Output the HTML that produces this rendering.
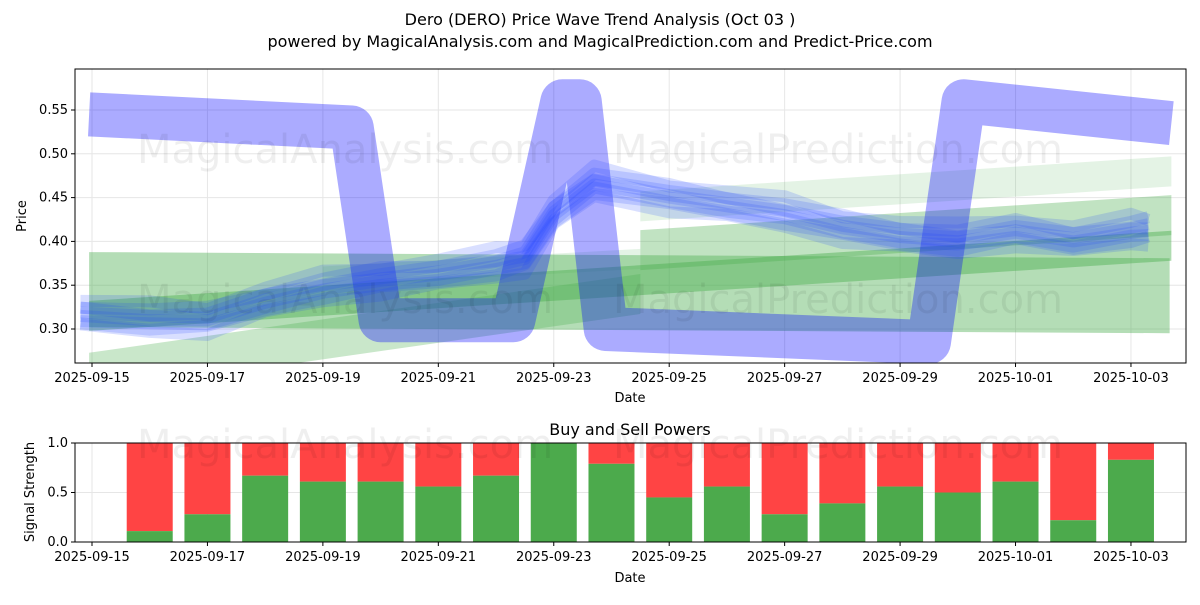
<!DOCTYPE html>
<html><head><meta charset="utf-8"><style>
body{margin:0;background:#fff;font-family:"Liberation Sans","DejaVu Sans",sans-serif}
svg text{font-family:"DejaVu Sans","Liberation Sans",sans-serif;fill:#000}
</style></head><body>
<svg id="c" width="1200" height="600" xmlns="http://www.w3.org/2000/svg">
<rect width="1200" height="600" fill="#fff"/>
<text x="600" y="25" font-size="16" text-anchor="middle">Dero (DERO) Price Wave Trend Analysis (Oct 03 )</text>
<text x="600" y="47" font-size="16" text-anchor="middle">powered by MagicalAnalysis.com and MagicalPrediction.com and Predict-Price.com</text>
<text x="630" y="435" font-size="16" text-anchor="middle">Buy and Sell Powers</text>
<defs><clipPath id="ct"><rect x="75" y="69" width="1111" height="294"/></clipPath></defs>
<g id="topg" clip-path="url(#ct)"></g>
<g id="bot"></g>
<g id="axes"></g>
</svg>
<script>
const dayLabels=["2025-09-15","2025-09-17","2025-09-19","2025-09-21","2025-09-23","2025-09-25","2025-09-27","2025-09-29","2025-10-01","2025-10-03"];
const priceTicks=[0.30,0.35,0.40,0.45,0.50,0.55];
const priceDays=[-0.2,1,2,3,4,5,6,7,7.5,8,8.7,10,11,12,13,14,15,16,17,18,18.3];
const priceVals=[0.315,0.31,0.31,0.33,0.345,0.355,0.362,0.372,0.38,0.43,0.465,0.45,0.44,0.43,0.415,0.405,0.40,0.41,0.40,0.41,0.412];
const waveDays=[-0.05,4.5,5.0,7.3,8.15,8.45,8.9,14.5,15.1,18.7];
const waveVals=[0.545,0.53,0.31,0.31,0.56,0.56,0.30,0.285,0.56,0.535];
const powerDays=[1,2,3,4,5,6,7,8,9,10,11,12,13,14,15,16,17,18];
const buyPower=[0.11,0.28,0.67,0.61,0.61,0.56,0.67,1.0,0.79,0.45,0.56,0.28,0.39,0.56,0.5,0.61,0.22,0.83];
const NS="http://www.w3.org/2000/svg";
const X=d=>92+d*57.72;
const Y=v=>329-(v-0.30)/0.05*43.8;
const YB=v=>542-v*99;
function el(p,t,a){const e=document.createElementNS(NS,t);for(const k in a)e.setAttribute(k,a[k]);p.appendChild(e);return e;}
const topG=document.getElementById('topg'),bot=document.getElementById('bot'),ax=document.getElementById('axes');
priceTicks.forEach(v=>{const g=el(topG,'line',{x1:75,x2:1186,y1:Y(v),y2:Y(v),stroke:'#e6e6e6'});

});
dayLabels.forEach((l,i)=>{const g=el(topG,'line',{x1:X(i*2),x2:X(i*2),y1:69,y2:363,stroke:'#e6e6e6'});

});
[[345,163,'MagicalAnalysis.com'],[838,163,'MagicalPrediction.com'],[345,313,'MagicalAnalysis.com'],[838,313,'MagicalPrediction.com'],[345,458,'MagicalAnalysis.com'],[838,458,'MagicalPrediction.com']].forEach(w=>{const t=el(document.getElementById('c'),'text',{x:w[0],y:w[1],'font-size':40,'text-anchor':'middle',style:'fill:#000;opacity:0.06'});t.textContent=w[2];

});
function band(d0,v0,d1,v1,w,op){const p=el(topG,'polygon',{points:`${X(d0)},${Y(v0)-w/2} ${X(d1)},${Y(v1)-w/2} ${X(d1)},${Y(v1)+w/2} ${X(d0)},${Y(v0)+w/2}`,fill:'#4caf50',opacity:op});

}
band(-0.05,0.345,18.67,0.338,75,0.42);
band(-0.05,0.315,18.7,0.395,30,0.45);
band(9.5,0.39,18.7,0.43,40,0.35);
band(9.5,0.44,18.7,0.48,30,0.15);
band(-0.05,0.25,9.5,0.34,40,0.3);
band(4,0.36,9.5,0.38,20,0.15);
const wp=waveDays.map((d,i)=>X(d)+','+Y(waveVals[i])).join(' ');
const wl=el(topG,'polyline',{points:wp,fill:'none',stroke:'#0000ff','stroke-width':44,'stroke-linejoin':'round',opacity:0.33});


const offs=[-0.014,-0.009,-0.005,0,0.004,0.008,0.013,0.018];
offs.forEach((o,k)=>{const pts=priceDays.map((d,i)=>X(d)+','+Y(priceVals[i]+o*(0.7+((i+k)%3)*0.25))).join(' ');
const l=el(topG,'polyline',{points:pts,fill:'none',stroke:'#2040ff','stroke-width':12,'stroke-linejoin':'round',opacity:0.17});

});
[[75,69,1111,294],[75,443,1111,99]].forEach(r=>{const f=el(ax,'rect',{x:r[0],y:r[1],width:r[2],height:r[3],fill:'none',stroke:'#000','stroke-width':1});

});
priceTicks.forEach(v=>{el(ax,'line',{x1:71,x2:75,y1:Y(v),y2:Y(v),stroke:'#000'});const t=el(ax,'text',{x:68,y:Y(v)+4,'font-size':13,'text-anchor':'end'});t.textContent=v.toFixed(2);

});
dayLabels.forEach((l,i)=>{el(ax,'line',{x1:X(i*2),x2:X(i*2),y1:363,y2:367,stroke:'#000'});const t=el(ax,'text',{x:X(i*2),y:382,'font-size':13,'text-anchor':'middle'});t.textContent=l;

});
[0,0.5,1].forEach(v=>{el(bot,'line',{x1:75,x2:1186,y1:YB(v),y2:YB(v),stroke:'#e6e6e6'});el(ax,'line',{x1:71,x2:75,y1:YB(v),y2:YB(v),stroke:'#000'});const t=el(ax,'text',{x:68,y:YB(v)+4,'font-size':13,'text-anchor':'end'});t.textContent=v.toFixed(1);

});
dayLabels.forEach((l,i)=>{el(bot,'line',{x1:X(i*2),x2:X(i*2),y1:443,y2:542,stroke:'#e6e6e6'});el(ax,'line',{x1:X(i*2),x2:X(i*2),y1:542,y2:546,stroke:'#000'});const t=el(ax,'text',{x:X(i*2),y:561,'font-size':13,'text-anchor':'middle'});t.textContent=l;

});
powerDays.forEach((d,i)=>{const bw=46,x=X(d)-bw/2;
const r=el(bot,'rect',{x:x,y:YB(1),width:bw,height:YB(buyPower[i])-YB(1),fill:'#ff4444'});


const g=el(bot,'rect',{x:x,y:YB(buyPower[i]),width:bw,height:YB(0)-YB(buyPower[i]),fill:'#4caa4c'});

});
[[630,402,'Date'],[630,582,'Date']].forEach(a=>{const t=el(ax,'text',{x:a[0],y:a[1],'font-size':13,'text-anchor':'middle'});t.textContent=a[2];

});
const yt=el(ax,'text',{x:26,y:216,'font-size':13,'text-anchor':'middle',transform:'rotate(-90 26 216)'});yt.textContent='Price';


const yt2=el(ax,'text',{x:34,y:492,'font-size':13,'text-anchor':'middle',transform:'rotate(-90 34 492)'});yt2.textContent='Signal Strength';


</script>
</body></html>
